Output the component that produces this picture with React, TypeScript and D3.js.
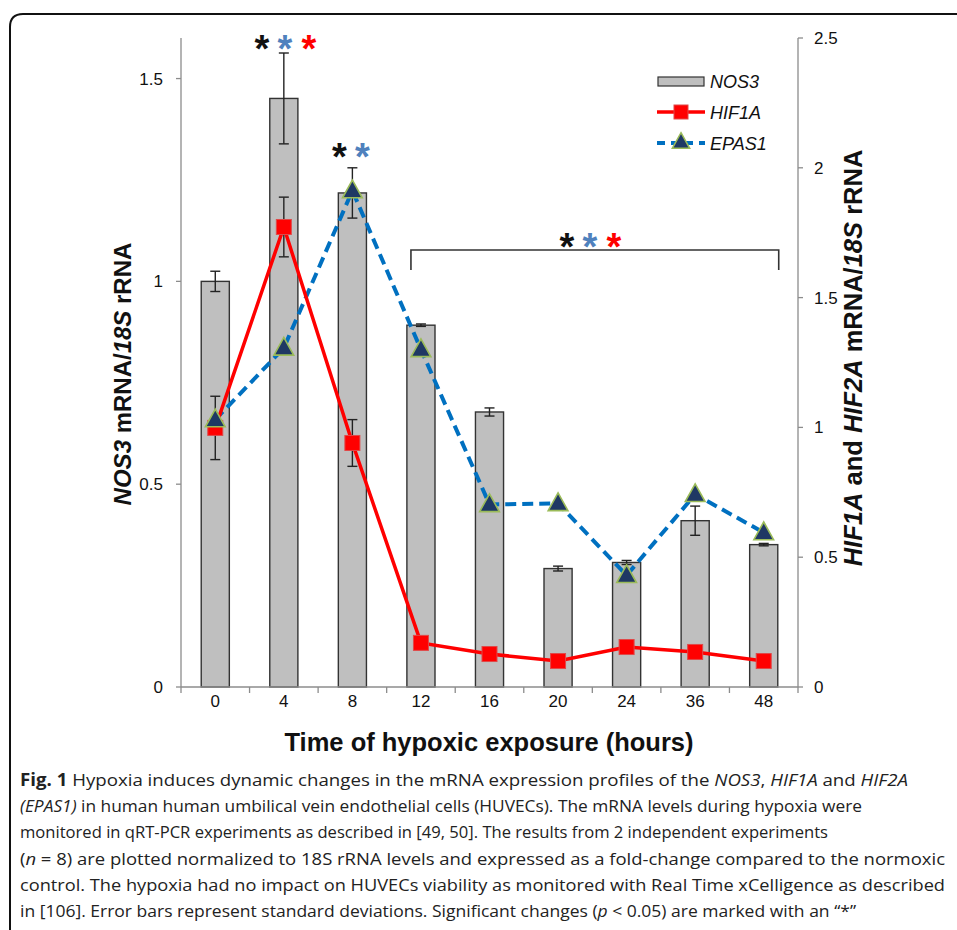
import React from "react";
import * as d3 from "d3";

// data
const hours = ["0", "4", "8", "12", "16", "20", "24", "36", "48"];
const nos3 = [1.0, 1.451, 1.218, 0.892, 0.678, 0.292, 0.307, 0.41, 0.351];
const nos3Err = [0.025, 0.112, 0.062, 0.003, 0.01, 0.006, 0.005, 0.036, 0.003];
const hif1a = [0.998, 1.772, 0.94, 0.17, 0.127, 0.1, 0.154, 0.135, 0.1];
const hif1aErr = [0.122, 0.115, 0.09, 0, 0, 0, 0, 0, 0];
const epas1 = [1.03, 1.306, 1.912, 1.3, 0.703, 0.707, 0.43, 0.742, 0.595];
const leftTicks = [0, 0.5, 1, 1.5];
const rightTicks = [0, 0.5, 1, 1.5, 2, 2.5];

const captionLines = [
  [["b", "Fig. 1"], ["", " Hypoxia induces dynamic changes in the mRNA expression profiles of the "], ["i", "NOS3"], ["", ", "], ["i", "HIF1A"], ["", " and "], ["i", "HIF2A"]],
  [["i", "(EPAS1)"], ["", " in human human umbilical vein endothelial cells (HUVECs). The mRNA levels during hypoxia were"]],
  [["", "monitored in qRT-PCR experiments as described in [49, 50]. The results from 2 independent experiments"]],
  [["", "("], ["i", "n"], ["", " = 8) are plotted normalized to 18S rRNA levels and expressed as a fold-change compared to the normoxic"]],
  [["", "control. The hypoxia had no impact on HUVECs viability as monitored with Real Time xCelligence as described"]],
  [["", "in [106]. Error bars represent standard deviations. Significant changes ("], ["i", "p"], ["", " < 0.05) are marked with an \u201c*\u201d"]],
];
const captionWidths = [888, 842, 808, 925, 925, 836];

export default function App() {
  const W = 957, H = 930;
  const left = 181, right = 798, top = 38, bottom = 687;

  const x = d3.scaleBand().domain(hours).range([left, right]).padding(0);
  const yL = d3.scaleLinear().domain([0, 1.6]).range([bottom, top]);
  const yR = d3.scaleLinear().domain([0, 2.5]).range([bottom, top]);
  const cx = (h: string) => (x(h) as number) + x.bandwidth() / 2;
  const barW = x.bandwidth() * 0.41;

  const hifLine = d3.line<number>().x((d, i) => cx(hours[i])).y((d) => yR(d));
  const font = "'Liberation Sans', Arial, sans-serif";
  const axisCol = "#8c8c8c";
  const cap = 5;

  const tri = (px: number, py: number, s: number) =>
    `M${px},${py - s * 0.62} L${px + s * 0.58},${py + s * 0.42} L${px - s * 0.58},${py + s * 0.42} Z`;

  const star = (px: number, py: number, color: string, key: string) => (
    <text key={key} x={px} y={py + 19} textAnchor="middle" fontSize={38}
      fontWeight="bold" fill={color} fontFamily={font}>*</text>
  );

  const bx0 = cx("12") - 10, bx1 = cx("48") + 15, by = 250;

  return (
    <svg width={W} height={H} style={{ position: "absolute", left: 0, top: 0, background: "#fff" }}>
      <rect width={W} height={H} fill="#fff" />
      {/* frame */}
      <path d="M10,930 V27 Q10,14 23,14 H957" fill="none" stroke="#111" strokeWidth={2} />

      {/* bars */}
      {hours.map((h, i) => (
        <rect key={"b" + h} x={cx(h) - barW / 2} y={yL(nos3[i])} width={barW}
          height={bottom - yL(nos3[i])} fill="#bfbfbf" stroke="#333" strokeWidth={1.4} />
      ))}
      {/* bar error bars */}
      {hours.map((h, i) => {
        const y1 = yL(nos3[i] + nos3Err[i]), y2 = yL(nos3[i] - nos3Err[i]);
        return (
          <g key={"e" + h} stroke="#222" strokeWidth={1.4}>
            <line x1={cx(h)} x2={cx(h)} y1={y1} y2={y2} />
            <line x1={cx(h) - cap} x2={cx(h) + cap} y1={y1} y2={y1} />
            <line x1={cx(h) - cap} x2={cx(h) + cap} y1={y2} y2={y2} />
          </g>
        );
      })}
      {/* HIF1A error bars */}
      {hours.map((h, i) => {
        if (!hif1aErr[i]) return null;
        const y1 = yR(hif1a[i] + hif1aErr[i]), y2 = yR(hif1a[i] - hif1aErr[i]);
        return (
          <g key={"he" + h} stroke="#222" strokeWidth={1.4}>
            <line x1={cx(h)} x2={cx(h)} y1={y1} y2={y2} />
            <line x1={cx(h) - cap} x2={cx(h) + cap} y1={y1} y2={y1} />
            <line x1={cx(h) - cap} x2={cx(h) + cap} y1={y2} y2={y2} />
          </g>
        );
      })}

      {/* axes */}
      <g stroke={axisCol} strokeWidth={1.3}>
        <line x1={left} x2={left} y1={top} y2={bottom} />
        <line x1={right} x2={right} y1={top} y2={bottom} />
        <line x1={left} x2={right} y1={bottom} y2={bottom} />
        {leftTicks.map((t) => <line key={"lt" + t} x1={left - 5} x2={left} y1={yL(t)} y2={yL(t)} />)}
        {rightTicks.map((t) => <line key={"rt" + t} x1={right} x2={right + 5} y1={yR(t)} y2={yR(t)} />)}
        {hours.map((h) => <line key={"xt" + h} x1={x(h) as number} x2={x(h) as number} y1={bottom} y2={bottom + 6} />)}
        <line x1={right} x2={right} y1={bottom} y2={bottom + 6} />
      </g>
      <g fontFamily={font} fontSize={17} fill="#111">
        {leftTicks.map((t) => (
          <text key={"ll" + t} x={left - 18} y={yL(t) + 6} textAnchor="end">{t}</text>
        ))}
        {rightTicks.map((t) => (
          <text key={"rl" + t} x={right + 16} y={yR(t) + 6}>{t}</text>
        ))}
        {hours.map((h) => (
          <text key={"xl" + h} x={cx(h)} y={bottom + 20} textAnchor="middle">{h}</text>
        ))}
      </g>

      {/* EPAS1 */}
      <path d={hifLine(epas1) as string} fill="none" stroke="#0070c0" strokeWidth={4}
        strokeDasharray="11,6" />
      {/* HIF1A */}
      <path d={hifLine(hif1a) as string} fill="none" stroke="#ff0000" strokeWidth={3.5} />
      {hours.map((h, i) => (
        <rect key={"hs" + h} x={cx(h) - 7.5} y={yR(hif1a[i]) - 7.5} width={15} height={15}
          fill="#ff0000" stroke="#e04848" strokeWidth={1} />
      ))}
      {hours.map((h, i) => (
        <path key={"et" + h} d={tri(cx(h), yR(epas1[i]), 17)} fill="#1f3864"
          stroke="#9bbb59" strokeWidth={1.6} />
      ))}

      {/* significance */}
      {star(cx("4") - 22, 43, "#111", "s1")}
      {star(cx("4") + 1, 43, "#4f81bd", "s2")}
      {star(cx("4") + 25, 43, "#ff0000", "s3")}
      {star(cx("8") - 13, 151, "#111", "s4")}
      {star(cx("8") + 10, 151, "#4f81bd", "s5")}
      <path d={`M${bx0},${by + 20} V${by} H${bx1} V${by + 20}`} fill="none" stroke="#333" strokeWidth={1.6} />
      {star(567, 241, "#111", "s6")}
      {star(590, 241, "#4f81bd", "s7")}
      {star(614, 241, "#ff0000", "s8")}

      {/* legend */}
      <rect x={658} y={77} width={46} height={9} fill="#bfbfbf" stroke="#333" strokeWidth={1.2} />
      <line x1={657} x2={705} y1={112} y2={112} stroke="#ff0000" strokeWidth={3.5} />
      <rect x={674} y={105} width={14} height={14} fill="#ff0000" stroke="#e04848" />
      <line x1={657} x2={705} y1={143} y2={143} stroke="#0070c0" strokeWidth={4} strokeDasharray="8,6" />
      <path d={tri(681, 142, 15)} fill="#1f3864" stroke="#9bbb59" strokeWidth={1.5} />
      <g fontFamily={font} fontSize={18} fontStyle="italic" fill="#111">
        <text x={710} y={88}>NOS3</text>
        <text x={710} y={119}>HIF1A</text>
        <text x={710} y={150}>EPAS1</text>
      </g>

      {/* axis titles */}
      <text transform={`translate(131,374) rotate(-90)`} textAnchor="middle" fontFamily={font}
        fontWeight="bold" fontSize={24} fill="#111">
        <tspan fontStyle="italic">NOS3</tspan> mRNA/<tspan fontStyle="italic">18S</tspan> rRNA
      </text>
      <text transform={`translate(862,358) rotate(-90)`} textAnchor="middle" fontFamily={font}
        fontWeight="bold" fontSize={25.5} fill="#111">
        <tspan fontStyle="italic">HIF1A</tspan> and <tspan fontStyle="italic">HIF2A</tspan> mRNA/<tspan fontStyle="italic">18S</tspan> rRNA
      </text>
      <text x={489} y={751} textAnchor="middle" fontFamily={font} fontWeight="bold"
        fontSize={25.5} fill="#111">Time of hypoxic exposure (hours)</text>

      {/* caption */}
      <g fontFamily="'Open Sans', 'Noto Sans', sans-serif" fontSize={17} fill="#222">
        {captionLines.map((line, li) => (
          <text key={"c" + li} x={20} y={786 + li * 26.2} textLength={captionWidths[li]}
            lengthAdjust="spacingAndGlyphs">
            {line.map(([st, s], k) => (
              <tspan key={k} fontWeight={st === "b" ? "bold" : undefined}
                fontStyle={st === "i" ? "italic" : undefined}>{s}</tspan>
            ))}
          </text>
        ))}
      </g>
    </svg>
  );
}
